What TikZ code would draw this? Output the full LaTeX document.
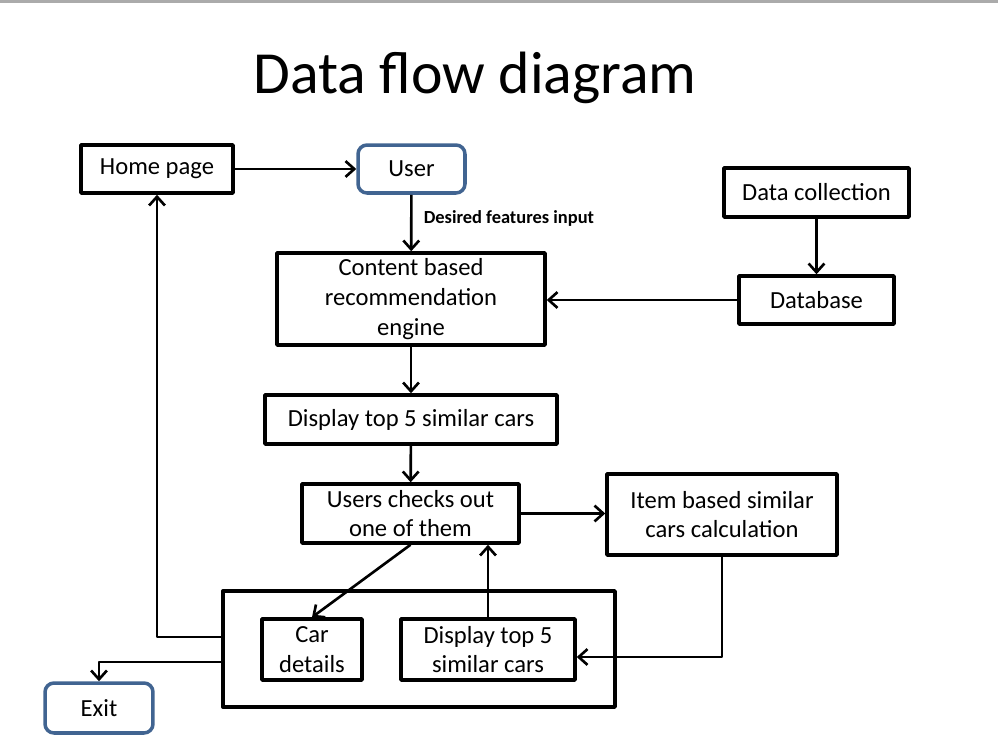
\documentclass[tikz,border=0pt]{standalone}
\usepackage{fontspec}
\setmainfont{Carlito}
\usetikzlibrary{arrows.meta}
\definecolor{userblue}{RGB}{65,100,145}
\begin{document}
\begin{tikzpicture}[x=0.02cm, y=-0.02cm, font=\fontsize{14}{17}\selectfont, line join=round, >={Straight Barb[length=5pt,width=9pt]},
	box/.style={draw, line width=2pt, align=center, inner sep=0pt},
	rbox/.style={box, draw=userblue, rounded corners=0.18cm},
	flow/.style={->, line width=1.5pt}]
	\useasboundingbox (0,0) rectangle (998,751);
	\fill[black!33] (0,0) rectangle (998,2.5);
	\node (title) at (475,78) {\fontsize{34}{40}\selectfont Data flow diagram};
	% top row
	\node[box, minimum width=3.04cm, minimum height=0.96cm] (home) at (157,169) {Home page};
	\node[rbox, minimum width=2.14cm, minimum height=0.96cm] (user) at (411.5,169) {User};
	\node[box, minimum width=3.7cm, minimum height=0.98cm] (collect) at (816.5,192.5) {Data collection};
	\node[box, minimum width=3.1cm, minimum height=0.96cm] (db) at (816.5,300) {Database};
	% middle column
	\node[box, minimum width=5.36cm, minimum height=1.84cm] (engine) at (411,299) {Content based\\recommendation\\engine};
	\node[box, minimum width=5.84cm, minimum height=0.98cm] (top5) at (411,419.5) {Display top 5 similar cars};
	\node[box, minimum width=4.34cm, minimum height=1.18cm] (check) at (410.5,513.5) {Users checks out\\one of them};
	\node[box, minimum width=4.6cm, minimum height=1.62cm] (item) at (722,514.5) {Item based similar\\cars calculation};
	% bottom group
	\node[box, minimum width=7.84cm, minimum height=2.32cm] (group) at (419,649) {};
	\node[box, minimum width=2.0cm, minimum height=1.22cm] (details) at (312,649.5) {Car\\details};
	\node[box, minimum width=3.48cm, minimum height=1.22cm] (similar) at (488,649.5) {Display top 5\\similar cars};
	\node[rbox, minimum width=2.16cm, minimum height=1.0cm] (exit) at (99,708) {Exit};
	% connectors
	\draw[flow] (home) -- (user);
	\draw[flow] (user) -- node[right=3pt, pos=.42, font=\fontsize{10.5}{12}\selectfont\bfseries] {Desired features input} (engine);
	\draw[flow] (collect) -- (db);
	\draw[flow] (db.west) -- (db.west -| engine.east);
	\draw[flow] (engine) -- (top5);
	\draw[flow] (top5) -- (check);
	\draw[flow] (check.east) -- (check.east -| item.west);
	\draw[flow] (item.south) |- ([yshift=-0.15cm]similar.east);
	\draw[flow] (similar.north) -- (similar.north |- check.south);
	\draw[flow] (check.south) -- (details.north);
	\draw[flow] ([yshift=0.24cm]group.west) -| (home.south);
	\draw[flow] ([yshift=-0.26cm]group.west) -| (exit.north);
\end{tikzpicture}
\end{document}
